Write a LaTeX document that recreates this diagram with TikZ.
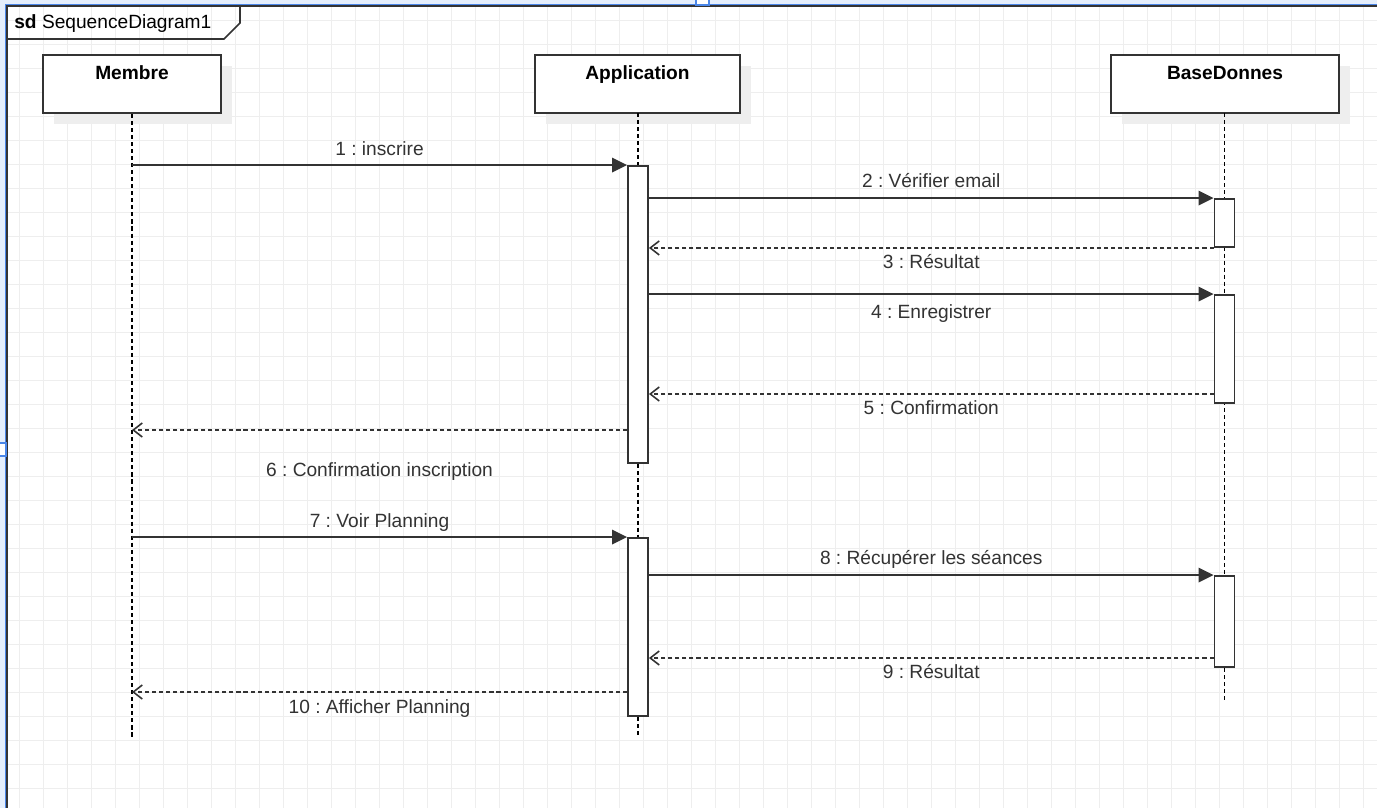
\documentclass[tikz,border=0pt]{standalone}
\usepackage{fontspec}
\setmainfont{Liberation Sans}
\frenchspacing
\usetikzlibrary{arrows.meta,shadows}
\definecolor{gridgray}{HTML}{EEEEEE}
\definecolor{selblue}{HTML}{4A86E8}
\definecolor{selfill}{HTML}{E4EEFC}
\definecolor{linegray}{HTML}{333333}
\definecolor{shadowgray}{HTML}{EEEEEE}
\tikzset{
  headbox/.style={draw=linegray, line width=1.2pt, fill=white, minimum height=1.16cm,
    text height=0.3cm, text depth=0.5cm, font=\fontsize{10.9}{13}\selectfont\bfseries,
    general shadow={fill=shadowgray, shadow xshift=0.22cm, shadow yshift=-0.22cm}},
  actbar/.style={draw=linegray, line width=1.1pt, fill=white, minimum width=0.4cm, inner sep=0pt},
  lifeline/.style={draw=black, line width=0.9pt, dash pattern=on 2.3pt off 1.7pt},
  call/.style={draw=linegray, line width=1.1pt, -{Triangle[length=0.3cm,width=0.29cm]}},
  reply/.style={draw=linegray, line width=0.9pt, dash pattern=on 2.3pt off 1.7pt,
    -{Straight Barb[length=0.18cm,width=0.28cm]}},
  msglbl/.style={font=\fontsize{10.9}{13}\selectfont, text=linegray, text height=0.9em,
    text depth=0.18em, inner sep=0pt},
  gridline/.style={draw=gridgray, line width=0.6pt},
}
\begin{document}
\begin{tikzpicture}[x=0.02cm, y=-0.02cm]
\useasboundingbox (0,0) rectangle (1377,808);
\fill[white] (0,0) rectangle (1377,808);
\foreach \gx in {0,...,56} \draw[gridline] (19.3+24*\gx,0) -- (19.3+24*\gx,808);
\foreach \gy in {0,...,33} \draw[gridline] (0,20.3+24*\gy) -- (1377,20.3+24*\gy);

\fill[selfill] (0,0) rectangle (5,808);
\fill[selfill] (0,0) rectangle (1377,4);
\draw[selblue, line width=0.8pt] (5.3,808) -- (5.3,4.6) -- (1377,4.6);
\draw[linegray, line width=0.9pt] (6.8,808) -- (6.8,6) -- (1377,6);
\draw[selblue, fill=white, line width=0.8pt] (696,-1) rectangle (709,5);
\draw[selblue, fill=white, line width=0.8pt] (-1,443) rectangle (6,456);
\draw[linegray, line width=1pt] (7,39) -- (224,39) -- (240,23) -- (240,6);
\node[anchor=base west, inner sep=0pt, font=\fontsize{10.9}{13}\selectfont] (sdlbl) at (14,29) {\textbf{sd} SequenceDiagram1};

\node[headbox, minimum width=3.56cm] (membre) at (132,84) {Membre};
\node[headbox, minimum width=4.1cm] (app) at (637.5,84) {Application};
\node[headbox, minimum width=4.56cm] (base) at (1225,84) {BaseDonnes};

\coordinate (endA) at (0,738);
\coordinate (endB) at (0,703);
\draw[lifeline] (membre.south) -- (membre.south |- endA);
\draw[lifeline] (638,113) -- (638,738);
\draw[lifeline] (1224.5,113) -- (1224.5,703);

\node[actbar, minimum height=5.94cm] (appA) at (638,314.5) {};
\node[actbar, minimum height=3.56cm] (appB) at (638,627) {};
\node[actbar, minimum height=0.96cm] (dbA) at (1224.5,223) {};
\node[actbar, minimum height=2.16cm] (dbB) at (1224.5,349) {};
\node[actbar, minimum height=1.82cm] (dbC) at (1224.5,621.5) {};

\coordinate (y5) at (0,394);
\coordinate (y6) at (0,430);
\coordinate (y9) at (0,658);
\coordinate (y10) at (0,692);

\draw[call] (membre.south |- appA.north) -- (appA.north west) node[msglbl, midway, yshift=0.32cm] (l1) {1 : inscrire};
\draw[call] (appA.east |- dbA.north) -- (dbA.north west) node[msglbl, midway, yshift=0.34cm] (l2) {2 : Vérifier email};
\draw[reply] (dbA.south west) -- (appA.east |- dbA.south) node[msglbl, midway, yshift=-0.28cm] (l3) {3 : Résultat};
\draw[call] (appA.east |- dbB.north) -- (dbB.north west) node[msglbl, midway, yshift=-0.36cm] (l4) {4 : Enregistrer};
\draw[reply] (dbB.west |- y5) -- (appA.east |- y5) node[msglbl, midway, yshift=-0.28cm] (l5) {5 : Confirmation};
\draw[reply] (appA.west |- y6) -- (membre.south |- y6) node[msglbl, midway, yshift=-0.8cm] (l6) {6 : Confirmation inscription};
\draw[call] (membre.south |- appB.north) -- (appB.north west) node[msglbl, midway, yshift=0.32cm] (l7) {7 : Voir Planning};
\draw[call] (appB.east |- dbC.north) -- (dbC.north west) node[msglbl, midway, yshift=0.34cm] (l8) {8 : Récupérer les séances};
\draw[reply] (dbC.west |- y9) -- (appB.east |- y9) node[msglbl, midway, yshift=-0.28cm] (l9) {9 : Résultat};
\draw[reply] (appB.west |- y10) -- (membre.south |- y10) node[msglbl, midway, yshift=-0.3cm] (l10) {10 : Afficher Planning};
\end{tikzpicture}
\end{document}
